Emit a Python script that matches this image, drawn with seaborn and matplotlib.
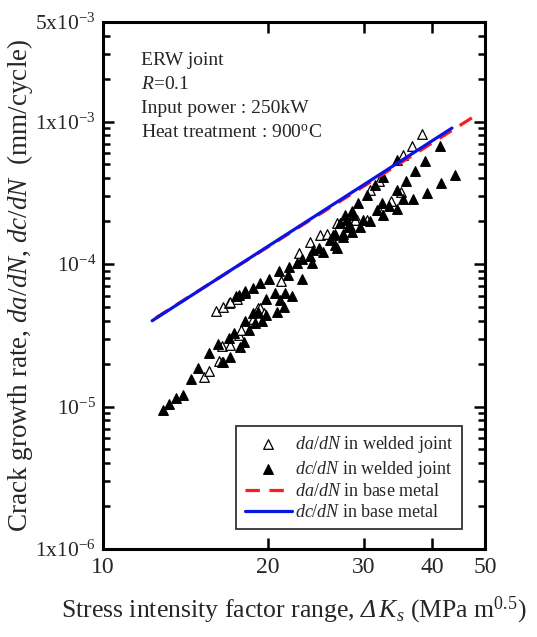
import numpy as np
import pandas as pd
import matplotlib
matplotlib.use("Agg")
import matplotlib.pyplot as plt
import matplotlib.ticker as mticker
import seaborn as sns

# da/dN in welded joint (open triangles)
da_weld_dk = [15.3, 15.6, 16.3, 16.5, 16.5, 17.1, 17.7, 17.9, 16.1, 16.6, 17.0, 17.6, 18.8, 19.2,
              17.1, 21.2, 22.8, 23.9, 25.0, 25.7, 26.8, 27.7, 29.1, 19.4, 19.7,
              38.3, 36.7, 35.4, 32.0, 30.8, 35.1, 33.6, 32.0, 30.4, 28.9]
da_weld_rate = [1.6e-5, 1.78e-5, 2.1e-5, 2.06e-5, 2.66e-5, 2.7e-5, 3.2e-5, 3.43e-5, 4.7e-5, 5.0e-5, 5.3e-5, 5.7e-5, 4.1e-5, 4.9e-5,
                5.4e-5, 7.6e-5, 1.2e-4, 1.42e-4, 1.59e-4, 1.63e-4, 1.94e-4, 1.94e-4, 2.05e-4, 4.9e-5, 4.5e-5,
                8.2e-4, 6.7e-4, 5.8e-4, 3.8e-4, 3.3e-4, 3.2e-4, 2.75e-4, 2.4e-4, 2.05e-4, 2.05e-4]

# dc/dN in welded joint (filled triangles)
dc_weld_dk = [12.9, 13.2, 13.6, 14.0, 14.5, 14.9, 15.6, 16.2, 16.6, 17.1, 17.0, 17.4, 17.8, 18.1, 18.2,
              18.8, 19.0, 17.7, 18.2, 19.5, 18.5,
              17.5, 18.2, 18.8, 19.4, 20.1, 21.0, 21.9, 22.6, 23.1, 23.9, 24.2, 24.8, 25.3, 26.0, 26.4,
              27.5, 27.9, 28.7, 26.6, 24.1, 23.1, 21.8, 21.5, 22.2, 20.6, 19.9, 21.1, 21.4, 20.8, 19.9,
              19.2, 28.1,
              34.5, 37.2, 38.9, 41.4, 35.9, 34.5, 35.4, 36.9, 39.1, 41.5, 44.1, 32.6, 31.5, 30.4, 29.3,
              28.5, 27.7, 32.4, 31.7, 33.4, 34.5, 32.6, 29.9, 30.8, 29.5, 28.3, 27.1, 28.5, 27.5, 26.6, 26.8]
dc_weld_rate = [0.95e-5, 1.05e-5, 1.15e-5, 1.2e-5, 1.57e-5, 1.87e-5, 2.36e-5, 2.73e-5, 2.06e-5, 2.24e-5, 3.03e-5, 3.3e-5, 2.63e-5, 2.86e-5, 3.98e-5,
                4.56e-5, 3.87e-5, 6.05e-5, 6.3e-5, 4.0e-5, 3.43e-5,
                5.96e-5, 6.5e-5, 6.8e-5, 7.4e-5, 7.9e-5, 8.9e-5, 9.6e-5, 1.01e-4, 1.09e-4, 1.13e-4, 1.25e-4, 1.3e-4, 1.21e-4, 1.47e-4, 1.59e-4,
                1.63e-4, 2.05e-4, 2.2e-4, 1.36e-4, 1.01e-4, 7.9e-5, 8.4e-5, 6.3e-5, 6.0e-5, 6.3e-5, 5.7e-5, 5.6e-5, 5.0e-5, 4.6e-5, 4.4e-5,
                4.6e-5, 1.83e-4,
                5.4e-4, 4.5e-4, 5.3e-4, 6.7e-4, 3.8e-4, 3.3e-4, 2.85e-4, 2.85e-4, 3.15e-4, 3.7e-4, 4.2e-4, 4.1e-4, 3.6e-4, 3.05e-4, 2.7e-4,
                2.35e-4, 2.2e-4, 2.7e-4, 2.4e-4, 2.55e-4, 2.45e-4, 2.2e-4, 2.05e-4, 2.0e-4, 1.83e-4, 1.86e-4, 1.94e-4, 1.68e-4, 1.56e-4, 1.63e-4, 1.3e-4]

# base metal fits
da_base_dk = [12.5, 48.0]
da_base_rate = [4.2e-5, 1.1e-3]
dc_base_dk = [12.3, 43.5]
dc_base_rate = [4.0e-5, 9.0e-4]

xticks = [10, 20, 30, 40, 50]
yticks = [1e-6, 1e-5, 1e-4, 1e-3, 5e-3]
ytick_labels = ["1x10$^{-6}$", "10$^{-5}$", "10$^{-4}$", "1x10$^{-3}$", "5x10$^{-3}$"]

sns.set_theme(style="ticks")
plt.rcParams['font.family'] = ['Liberation Serif', 'DejaVu Serif']
plt.rcParams['mathtext.fontset'] = 'custom'
plt.rcParams['mathtext.rm'] = 'Liberation Serif'
plt.rcParams['mathtext.it'] = 'Liberation Serif:italic'
plt.rcParams['mathtext.bf'] = 'Liberation Serif:bold'
plt.rcParams['mathtext.cal'] = 'Liberation Serif:italic'  # used for the italic Delta

da_weld = pd.DataFrame({'dk': da_weld_dk, 'rate': da_weld_rate})
dc_weld = pd.DataFrame({'dk': dc_weld_dk, 'rate': dc_weld_rate})
da_base = pd.DataFrame({'dk': da_base_dk, 'rate': da_base_rate})
dc_base = pd.DataFrame({'dk': dc_base_dk, 'rate': dc_base_rate})

fig = plt.figure(figsize=(5.37, 6.37), dpi=100)
ax = fig.add_axes([0.1918, 0.1381, 0.7114, 0.8274])

sns.scatterplot(data=da_weld, x='dk', y='rate', ax=ax, marker='^', s=48,
                facecolor='white', edgecolor='black', linewidth=0.9, zorder=3,
                label='$da/dN$ in welded joint')
sns.scatterplot(data=dc_weld, x='dk', y='rate', ax=ax, marker='^', s=48,
                color='black', edgecolor='black', linewidth=0.9, zorder=3,
                label='$dc/dN$ in welded joint')
sns.lineplot(data=da_base, x='dk', y='rate', ax=ax, color='#ff1a1a', linewidth=2.3,
             zorder=4, label='$da/dN$ in base metal')
ax.lines[-1].set_linestyle((0, (4.5, 3)))
sns.lineplot(data=dc_base, x='dk', y='rate', ax=ax, color='#0a14e6', linewidth=2.3,
             zorder=5, label='$dc/dN$ in base metal')

ax.set_xscale('log')
ax.set_yscale('log')
ax.set_xlim(10, 50)
ax.set_ylim(1e-6, 5e-3)

ax.xaxis.set_major_locator(mticker.FixedLocator(xticks))
ax.xaxis.set_major_formatter(mticker.FixedFormatter([str(v) for v in xticks]))
ax.xaxis.set_minor_locator(mticker.NullLocator())
ax.yaxis.set_major_locator(mticker.FixedLocator(yticks))
ax.yaxis.set_major_formatter(mticker.FixedFormatter(ytick_labels))
ax.yaxis.set_minor_locator(mticker.LogLocator(base=10, subs=np.arange(2, 10), numticks=20))
ax.yaxis.set_minor_formatter(mticker.NullFormatter())

ax.tick_params(which='both', direction='in', top=True, right=True, color='black', width=1.8)
ax.tick_params(which='major', length=8, pad=6)
ax.tick_params(axis='x', which='major', labelsize=17)
ax.tick_params(axis='y', which='major', labelsize=15.5, pad=5)
ax.tick_params(which='minor', length=5)
for spine in ax.spines.values():
    spine.set_linewidth(2.2)
    spine.set_edgecolor('black')

ax.set_xlabel('Stress intensity factor range, $\\mathcal{Δ}\\,K_s$ (MPa m$^{0.5}$)', fontsize=18.5, labelpad=12)
ax.set_ylabel('Crack growth rate, $da/dN$, $dc/dN$  (mm/cycle)', fontsize=19.5, labelpad=0)

ax.text(0.1, 0.927, 'ERW joint', transform=ax.transAxes, fontsize=14, va='center')
ax.text(0.1, 0.881, '$R$=0.1', transform=ax.transAxes, fontsize=14, va='center')
ax.text(0.1, 0.835, 'Input power : 250kW', transform=ax.transAxes, fontsize=14, va='center')
ax.text(0.1, 0.789, 'Heat treatment : 900$^{\\rm o}$C', transform=ax.transAxes, fontsize=14, va='center')

leg = ax.legend(loc='lower right', bbox_to_anchor=(0.939, 0.038), borderaxespad=0,
                fontsize=13, frameon=True, fancybox=False, handlelength=2.6,
                handletextpad=0.2, labelspacing=0.2, borderpad=0.45)
leg.get_frame().set_edgecolor('black')
leg.get_frame().set_linewidth(1.3)

fig.savefig('out.png', dpi=100)
